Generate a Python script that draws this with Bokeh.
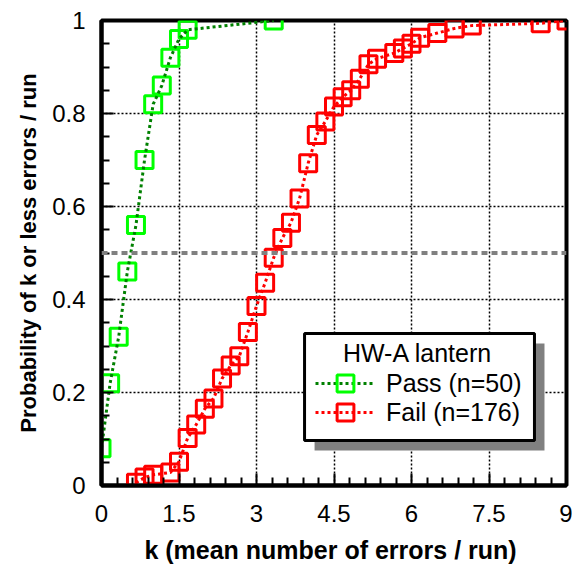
from bokeh.plotting import figure
from bokeh.models import (FixedTicker, Span, BoxAnnotation, Label, Legend, LegendItem)
from bokeh.embed import file_html
from bokeh.resources import INLINE

# ---- data ----
pass_k = [0.0, 0.167, 0.333, 0.5, 0.667, 0.833, 1.0, 1.167, 1.333, 1.5, 1.667, 3.333]
pass_p = [0.08, 0.22, 0.32, 0.46, 0.56, 0.70, 0.82, 0.86, 0.92, 0.96, 0.98, 1.0]

fail_k = [0.667, 0.833, 1.0, 1.333, 1.5, 1.667, 1.833, 2.0, 2.167, 2.333, 2.5, 2.667,
          2.833, 3.0, 3.167, 3.333, 3.5, 3.667, 3.833, 4.0, 4.167, 4.333, 4.5, 4.667,
          4.833, 5.0, 5.167, 5.333, 5.667, 5.833, 6.0, 6.167, 6.5, 6.833, 7.167, 8.5, 9.0]
fail_p = [0.006, 0.017, 0.023, 0.028, 0.051, 0.102, 0.131, 0.165, 0.187, 0.23, 0.258, 0.278,
          0.330, 0.386, 0.436, 0.49, 0.532, 0.565, 0.617, 0.693, 0.754, 0.783, 0.815, 0.835,
          0.85, 0.875, 0.906, 0.918, 0.93, 0.94, 0.95, 0.963, 0.973, 0.983, 0.989, 0.994, 1.0]

x_ticks = [0, 1.5, 3, 4.5, 6, 7.5, 9]
x_tick_labels = ["0", "1.5", "3", "4.5", "6", "7.5", "9"]
y_ticks = [0, 0.2, 0.4, 0.6, 0.8, 1]
y_tick_labels = ["0", "0.2", "0.4", "0.6", "0.8", "1"]

pass_label = "Pass (n=50)"
fail_label = "Fail (n=176)"
legend_title = "HW-A lantern"
x_title = "k  (mean number of errors / run)"
y_title = "Probability of k or less errors / run"
median_level = 0.5

FONT = "Liberation Sans"

p = figure(frame_width=465, frame_height=465, x_range=(0, 9), y_range=(0, 1),
           min_border_left=101, min_border_right=6, min_border_top=20, min_border_bottom=83,
           output_backend="svg", toolbar_location=None,
           background_fill_color="white", border_fill_color="white")
p.outline_line_color = "black"
p.outline_line_width = 4

x_minor = [round(i * 0.3, 1) for i in range(1, 30) if i % 5 != 0]
y_minor = [round(i * 0.05, 2) for i in range(1, 20) if i % 4 != 0]
p.xaxis.ticker = FixedTicker(ticks=x_ticks, minor_ticks=x_minor)
p.yaxis.ticker = FixedTicker(ticks=y_ticks, minor_ticks=y_minor)
p.xaxis.major_label_overrides = {t: l for t, l in zip(x_ticks, x_tick_labels)}
p.yaxis.major_label_overrides = {t: l for t, l in zip(y_ticks, y_tick_labels)}

for ax in (p.xaxis, p.yaxis):
    ax.axis_line_width = 4
    ax.axis_line_color = "black"
    ax.major_tick_in = 12
    ax.major_tick_out = 0
    ax.minor_tick_in = 8
    ax.minor_tick_out = 0
    ax.major_tick_line_width = 2
    ax.minor_tick_line_width = 2
    ax.major_tick_line_color = "black"
    ax.minor_tick_line_color = "black"
    ax.major_label_text_font = FONT
    ax.major_label_text_font_size = "24px"
    ax.major_label_text_color = "black"
    ax.axis_label_text_font = FONT
    ax.axis_label_text_font_style = "bold"
    ax.axis_label_text_color = "black"

p.xaxis.major_label_standoff = 19
p.yaxis.major_label_standoff = 16
p.xaxis.axis_label = x_title
p.yaxis.axis_label = y_title
p.xaxis.axis_label_text_font_size = "25px"
p.yaxis.axis_label_text_font_size = "22px"
p.xaxis.axis_label_standoff = 11
p.yaxis.axis_label_standoff = 8

for g in (p.xgrid, p.ygrid):
    g.grid_line_color = "black"
    g.grid_line_width = 1.5
    g.grid_line_dash = "2 2"

p.add_layout(Span(location=median_level, dimension="width", line_color="#808080",
                  line_width=4, line_dash="6 4"))

pass_m = p.scatter(pass_k, pass_p, marker="square", size=17, line_color="#00FF00",
                   line_width=3, fill_alpha=0)
pass_l = p.line(pass_k, pass_p, line_color="#008000", line_width=3, line_dash="3 3")
fail_m = p.scatter(fail_k, fail_p, marker="square", size=17, line_color="#FF0000",
                   line_width=3, fill_alpha=0)
fail_l = p.line(fail_k, fail_p, line_color="#FF0000", line_width=3, line_dash="3 3")

# legend box with shadow
bx0, bx1, by0, by1 = 3.93, 8.38, 0.097, 0.327
p.add_layout(BoxAnnotation(left=bx0 + 0.194, right=bx1 + 0.194, bottom=by0 - 0.0215,
                           top=by1 - 0.0215, fill_color="#808080", fill_alpha=1, line_alpha=0))
p.add_layout(BoxAnnotation(left=bx0, right=bx1, bottom=by0, top=by1,
                           fill_color="white", fill_alpha=1, line_color="black",
                           line_alpha=1, line_width=3))
p.add_layout(Label(x=6.12, y=0.284, text=legend_title, text_align="center",
                   text_baseline="middle", text_font=FONT, text_font_size="25px",
                   text_color="black"))

legend_style = dict(padding=0, margin=0, glyph_width=60, glyph_height=42, label_standoff=11,
                    label_text_font=FONT, label_text_font_size="25px",
                    label_text_color="black", background_fill_alpha=0, border_line_alpha=0)
leg_pass = Legend(items=[LegendItem(label=pass_label, renderers=[pass_l, pass_m])],
                  location=(214, 81), **legend_style)
leg_fail = Legend(items=[LegendItem(label=fail_label, renderers=[fail_l, fail_m])],
                  location=(214, 52), **legend_style)
p.add_layout(leg_pass, "center")
p.add_layout(leg_fail, "center")

open("out.html", "w").write(file_html(p, INLINE))
